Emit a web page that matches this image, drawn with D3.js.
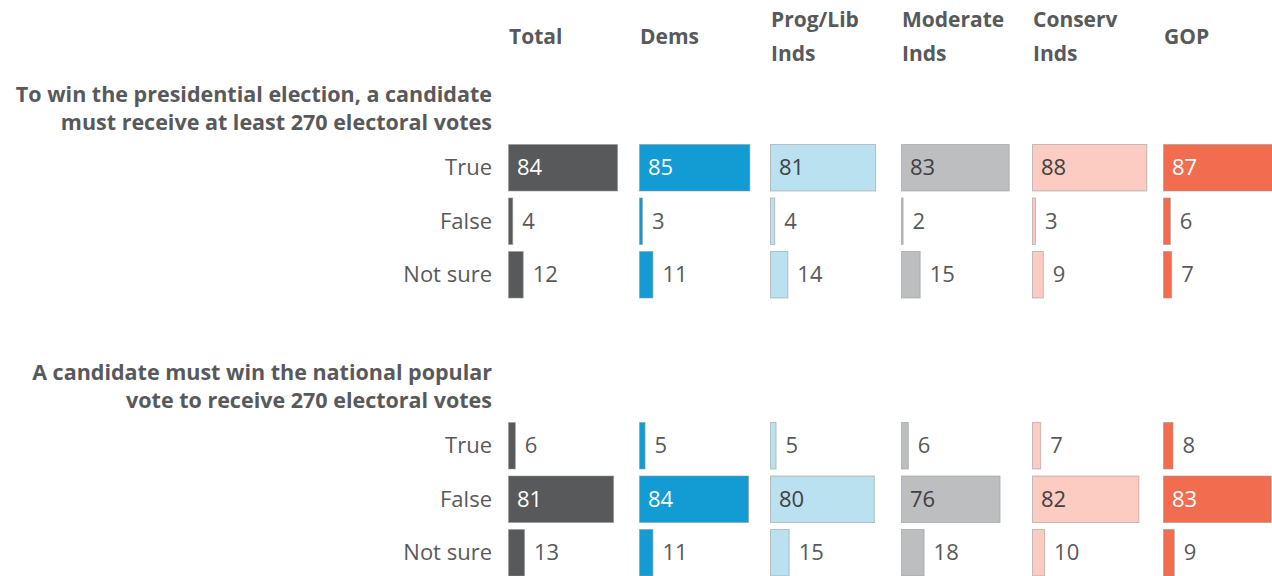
<!DOCTYPE html>
<html>
<head>
<meta charset="utf-8">
<script src="https://cdn.jsdelivr.net/npm/d3@7"></script>
<style>
  html, body { margin: 0; padding: 0; background: #ffffff; }
  svg { display: block; }
  text { font-family: "Open Sans", Lato, sans-serif; }
</style>
</head>
<body>
<svg id="chart" width="1272" height="576"></svg>
<script>
// Respondent groups (column headers, split into lines)
const groups = ["Total", "Dems", "Prog/Lib Inds", "Moderate Inds", "Conserv Inds", "GOP"];
const groupHeaderLines = [["Total"], ["Dems"], ["Prog/Lib", "Inds"], ["Moderate", "Inds"], ["Conserv", "Inds"], ["GOP"]];
const groupColors = ["#58595b", "#139bd4", "#b9e1f0", "#bcbec0", "#fccbc1", "#f26c4f"];
const groupTextOnBar = ["#ffffff", "#ffffff", "#414042", "#414042", "#414042", "#ffffff"];

// Statements and answer options
const statements = [
  ["To win the presidential election, a candidate", "must receive at least 270 electoral votes"],
  ["A candidate must win the national popular", "vote to receive 270 electoral votes"]
];
const answers = ["True", "False", "Not sure"];

// Percentages per answer, one value per group
const s1True    = [84, 85, 81, 83, 88, 87];
const s1False   = [4, 3, 4, 2, 3, 6];
const s1NotSure = [12, 11, 14, 15, 9, 7];
const s2True    = [6, 5, 5, 6, 7, 8];
const s2False   = [81, 84, 80, 76, 82, 83];
const s2NotSure = [13, 11, 15, 18, 10, 9];

const sectionValues = [
  [s1True, s1False, s1NotSure],
  [s2True, s2False, s2NotSure]
];

const svg = d3.select("#chart");
const textColor = "#58595b";

// Layout
const colWidth = 131;
const colStart = 508;
const labelRight = 492;
const sectionTops = [141, 419];

const xCol = d3.scaleBand().domain(groups).range([colStart, colStart + colWidth * groups.length]);
const xVal = d3.scaleLinear().domain([0, 100]).range([0, colWidth]);
const yRow = d3.scaleBand().domain(answers).range([0, 160.5]).paddingInner(6 / 53.5).paddingOuter(3 / 53.5);

// Column headers
groups.forEach((g, i) => {
  const lines = groupHeaderLines[i];
  const t = svg.append("text")
    .attr("fill", textColor)
    .attr("font-size", 21)
    .attr("font-weight", 700);
  if (lines.length === 1) {
    t.append("tspan").attr("x", xCol(g) + 1).attr("y", 44).text(lines[0]);
  } else {
    t.append("tspan").attr("x", xCol(g) + 1).attr("y", 27).text(lines[0]);
    t.append("tspan").attr("x", xCol(g) + 1).attr("y", 61).text(lines[1]);
  }
});

statements.forEach((lines, si) => {
  const top = sectionTops[si];
  const sec = svg.append("g").attr("transform", `translate(0,${top})`);

  // Statement title
  const title = sec.append("text")
    .attr("text-anchor", "end")
    .attr("fill", textColor)
    .attr("font-size", 21.5)
    .attr("font-weight", 700);
  title.append("tspan").attr("x", labelRight).attr("y", -39).text(lines[0]);
  title.append("tspan").attr("x", labelRight).attr("y", -11).text(lines[1]);

  answers.forEach((a, ai) => {
    const vals = sectionValues[si][ai];
    const y0 = yRow(a);
    const bh = yRow.bandwidth();

    // Answer label
    sec.append("text")
      .attr("x", labelRight)
      .attr("y", y0 + bh / 2)
      .attr("dy", "0.33em")
      .attr("text-anchor", "end")
      .attr("fill", textColor)
      .attr("font-size", 22)
      .text(a);

    const cells = sec.selectAll(null)
      .data(groups.map((g, gi) => ({ g, gi, v: vals[gi] })))
      .enter().append("g");

    cells.append("rect")
      .attr("x", d => xCol(d.g) + 0.5)
      .attr("y", y0 + 0.5)
      .attr("width", d => Math.max(0, xVal(d.v) - 1))
      .attr("height", bh - 1)
      .attr("fill", d => groupColors[d.gi])
      .attr("stroke", "rgba(150,150,150,0.55)")
      .attr("stroke-width", 1);

    cells.append("text")
      .attr("x", d => d.v >= 50 ? xCol(d.g) + 9 : xCol(d.g) + xVal(d.v) + 9)
      .attr("y", y0 + bh / 2)
      .attr("dy", "0.33em")
      .attr("fill", d => d.v >= 50 ? groupTextOnBar[d.gi] : textColor)
      .attr("font-size", 22)
      .text(d => d.v);
  });
});
</script>
</body>
</html>
